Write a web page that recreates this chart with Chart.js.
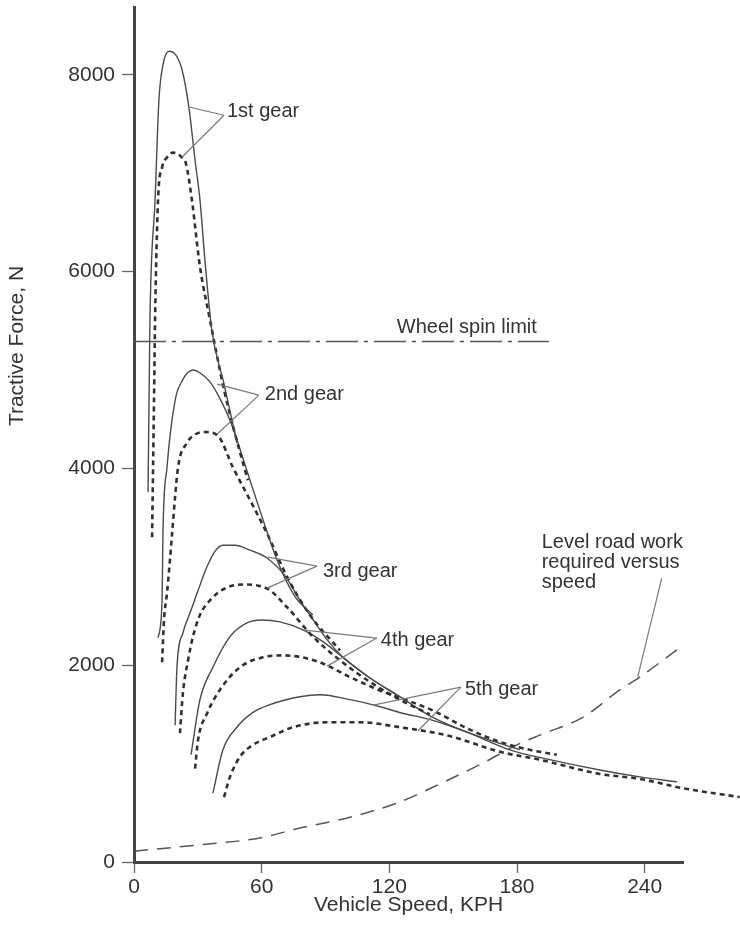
<!DOCTYPE html>
<html>
<head>
<meta charset="utf-8">
<script src="https://cdn.jsdelivr.net/npm/chart.js@4.4.1/dist/chart.umd.min.js"></script>
<style>
  html, body { margin: 0; padding: 0; background: #fff; overflow: hidden; }
  #wrap { width: 740px; height: 939px; }
</style>
</head>
<body>
<div id="wrap"><canvas id="chart"></canvas></div>
<script>
// Tick labels
const xTicks = [0, 60, 120, 180, 240];
const yTicks = [0, 2000, 4000, 6000, 8000];

// Tractive force curves: [speed KPH, force N]
const gear1Solid = [[6.6,3760],[7.5,5510],[9.9,6730],[11.7,7740],[13.6,8100],[16.4,8240],[19.7,8200],[22.6,8050],[25.8,7670],[28.7,7130],[31.0,6730],[33.4,6100],[36.6,5400],[42.3,4860],[48.4,4260]];
const gear1Dot = [[8.5,3300],[9.4,4690],[9.9,5510],[11.3,6730],[13.2,7060],[15.5,7160],[18.3,7210],[22.6,7160],[24.4,7100],[27.2,6730],[31.0,6050],[35.7,5510],[38.5,5200],[42.3,4800],[47.0,4390],[53.5,3880]];
const gear2Solid = [[11.3,2280],[13.2,2660],[13.6,3340],[15.5,4010],[19.3,4690],[22.6,4890],[27.7,5000],[31.0,4970],[35.7,4880],[40.4,4710],[45.1,4490],[48.4,4290],[54.5,3880],[60.6,3480],[67.2,3070],[75.6,2700],[84.1,2510]];
const gear2Dot = [[13.2,2030],[14.1,2460],[15.5,2730],[16.9,3070],[17.9,3340],[20.7,4010],[24.9,4260],[29.1,4350],[33.4,4370],[39.5,4330],[46.5,4010],[54.5,3680],[62.5,3340],[71.9,2900],[82.7,2510],[96.8,2150]];
const gear3Solid = [[19.3,1390],[20.2,1980],[23.0,2330],[26.3,2530],[30.1,2760],[34.3,3000],[38.1,3160],[41.8,3220],[47.4,3220],[54.5,3170],[62.5,3090],[70.9,2910],[78.0,2660],[83.6,2480],[90.7,2260],[98.2,2080],[110.9,1870],[124.9,1680]];
const gear3Dot = [[21.6,1310],[23.0,1720],[25.4,2050],[27.7,2290],[31.0,2510],[35.7,2660],[42.7,2780],[51.2,2820],[62.5,2780],[71.9,2590],[84.1,2290],[96.8,2050],[110.9,1830],[124.9,1650],[139.0,1500]];
const gear4Solid = [[26.8,1090],[31.0,1650],[37.1,1980],[45.1,2290],[53.1,2430],[60.1,2460],[68.6,2440],[79.4,2360],[88.8,2240],[98.2,2080],[110.9,1870],[124.9,1680],[140.4,1470],[157.8,1310],[181.3,1140]];
const gear4Dot = [[28.7,950],[30.1,1240],[34.3,1510],[40.4,1750],[49.8,1980],[60.6,2080],[70.0,2100],[86.0,2040],[101.5,1880],[117.0,1730],[124.9,1670],[140.4,1540],[156.4,1360],[171.9,1220],[186.0,1140],[198.7,1090]];
const gear5Solid = [[37.1,700],[41.8,1140],[48.4,1370],[55.9,1520],[63.9,1600],[78.0,1680],[87.4,1700],[101.5,1650],[117.0,1570],[124.9,1520],[140.4,1440],[156.4,1320],[176.6,1140],[195.4,1040],[218.9,935],[237.7,865],[255.1,815]];
const gear5Dot = [[42.3,660],[45.1,865],[49.8,1070],[55.9,1190],[63.9,1270],[74.7,1370],[90.7,1420],[106.2,1420],[124.9,1370],[148.4,1280],[171.9,1120],[190.7,1040],[218.9,895],[237.7,845],[257.9,750],[284.6,660]];
const levelRoad = [[0,110],[31.0,175],[59.2,245],[78.0,345],[101.5,455],[124.9,610],[140.4,760],[163.9,1005],[179.9,1190],[190.7,1290],[210.9,1470],[228.3,1750],[237.7,1880],[255.1,2155]];
const wheelSpin = [[0,5290],[195,5290]];

// Label texts and leader lines (in chart units)
const gearLabels = [
  {text: '1st gear', at: [43.7, 7570], lines: [[42.3,7590],[26.3,7671],[22.5,7163]]},
  {text: '2nd gear', at: [61.5, 4695], lines: [[58.7,4745],[39.0,4857],[39.0,4348]]},
  {text: '3rd gear', at: [88.8, 2897], lines: [[86.0,3007],[62.9,3099],[62.5,2784]]},
  {text: '4th gear', at: [116.0, 2195], lines: [[114.1,2276],[80.3,2357],[90.7,1991]]},
  {text: '5th gear', at: [155.5, 1697], lines: [[153.6,1778],[112.3,1595],[133.4,1331]]}
];
const roadText = ['Level road work', 'required versus', 'speed'];

const FONT = '"Liberation Sans", Arial, Helvetica, sans-serif';
Chart.defaults.font.family = FONT;
Chart.defaults.color = '#333';

const pts = arr => arr.map(p => ({x: p[0], y: p[1]}));

function solid(label, arr) {
  return {label, data: pts(arr), borderColor: '#4a4a4a', borderWidth: 1.4,
    cubicInterpolationMode: 'monotone'};
}
function dotted(label, arr) {
  return {label, data: pts(arr), borderColor: '#303030', borderWidth: 2.6,
    borderDash: [5, 4], cubicInterpolationMode: 'monotone'};
}

const notes = {
  id: 'notes',
  afterDatasetsDraw(chart) {
    const {ctx, scales: {x, y}} = chart;
    const px = p => [x.getPixelForValue(p[0]), y.getPixelForValue(p[1])];
    ctx.save();
    // leader lines
    ctx.strokeStyle = '#7a7a7a';
    ctx.lineWidth = 1.2;
    gearLabels.forEach(g => {
      const j = px(g.lines[0]);
      g.lines.slice(1).forEach(e => {
        const q = px(e);
        ctx.beginPath();
        ctx.moveTo(j[0], j[1]);
        ctx.lineTo(q[0], q[1]);
        ctx.stroke();
      });
    });
    let a = px([248.0, 2885]), b = px([236.7, 1880]);
    ctx.beginPath(); ctx.moveTo(a[0], a[1]); ctx.lineTo(b[0], b[1]); ctx.stroke();

    // texts
    ctx.fillStyle = '#333';
    ctx.font = '20px ' + FONT;
    ctx.textAlign = 'left';
    ctx.textBaseline = 'alphabetic';
    gearLabels.forEach(g => {
      const p = px(g.at);
      ctx.fillText(g.text, p[0], p[1]);
    });
    let w = px([123.5, 5375]);
    ctx.fillText('Wheel spin limit', w[0], w[1]);
    let r = px([191.6, 3191]);
    roadText.forEach((t, i) => ctx.fillText(t, r[0], r[1] + i * 20));

    // y axis title
    ctx.font = '21px ' + FONT;
    ctx.translate(17, 346);
    ctx.rotate(-Math.PI / 2);
    ctx.textAlign = 'center';
    ctx.textBaseline = 'middle';
    ctx.fillText('Tractive Force, N', 0, 0);
    ctx.restore();
  }
};

const ctx = document.getElementById('chart').getContext('2d');
new Chart(ctx, {
  type: 'scatter',
  data: {
    datasets: [
      solid('1st gear', gear1Solid), dotted('1st gear (dotted)', gear1Dot),
      solid('2nd gear', gear2Solid), dotted('2nd gear (dotted)', gear2Dot),
      solid('3rd gear', gear3Solid), dotted('3rd gear (dotted)', gear3Dot),
      solid('4th gear', gear4Solid), dotted('4th gear (dotted)', gear4Dot),
      solid('5th gear', gear5Solid),
      Object.assign(dotted('5th gear (dotted)', gear5Dot), {clip: false}),
      {label: 'Level road work', data: pts(levelRoad), borderColor: '#555', borderWidth: 1.5,
        borderDash: [14, 9], cubicInterpolationMode: 'monotone'},
      {label: 'Wheel spin limit', data: pts(wheelSpin), borderColor: '#555', borderWidth: 1.5,
        borderDash: [32, 6, 4, 6]}
    ]
  },
  options: {
    responsive: true,
    maintainAspectRatio: false,
    animation: false,
    showLine: true,
    elements: { point: { radius: 0 } },
    layout: { padding: { top: 7, right: 57, left: 0, bottom: 0 } },
    plugins: { legend: { display: false }, tooltip: { enabled: false } },
    scales: {
      x: {
        type: 'linear',
        min: 0,
        max: 258,
        afterBuildTicks: s => { s.ticks = xTicks.map(v => ({value: v})); },
        afterFit: s => { s.height = 77; s.paddingLeft = 0; s.paddingRight = 0; },
        ticks: { font: { size: 21 }, color: '#333', padding: 2, callback: v => String(v) },
        grid: { drawOnChartArea: false, drawTicks: true, tickLength: 11, tickColor: '#666', tickWidth: 1.3 },
        border: { display: true, color: '#444', width: 3 },
        title: { display: true, text: 'Vehicle Speed, KPH', font: { size: 21 }, color: '#333',
          padding: { top: 4, bottom: 21 } }
      },
      y: {
        type: 'linear',
        min: 0,
        max: 8690,
        afterBuildTicks: s => { s.ticks = yTicks.map(v => ({value: v})); },
        afterFit: s => { s.width = 134; s.paddingTop = 0; s.paddingBottom = 0; },
        ticks: { font: { size: 21 }, color: '#333', padding: 7, callback: v => String(v) },
        grid: { drawOnChartArea: false, drawTicks: true, tickLength: 12, tickColor: '#666', tickWidth: 1.3 },
        border: { display: true, color: '#444', width: 3 }
      }
    }
  },
  plugins: [notes]
});
</script>
</body>
</html>
